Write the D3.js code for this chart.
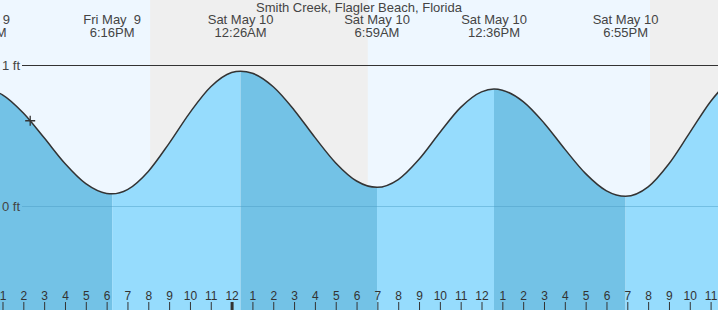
<!DOCTYPE html>
<html>
<head>
<meta charset="utf-8">
<script src="https://cdn.jsdelivr.net/npm/d3@7"></script>
<style>
  html, body { margin: 0; padding: 0; background: #fff; }
  svg { display: block; font-family: "Liberation Sans", Arial, sans-serif; }
</style>
</head>
<body>
<svg id="chart" width="718" height="310"></svg>
<script>
// ---- data (hours relative to Sat May 10, 12:00 AM) ----
const title = "Smith Creek, Flagler Beach, Florida";

const tideTimes = [-12.03, -11, -10, -9, -8, -7, -6, -5.733, -5, -4, -3, -2, -1, 0, 0.433,
  1, 2, 3, 4, 5, 6, 6.983, 8, 9, 10, 11, 12, 12.6, 13, 14, 15, 16, 17, 18, 18.917,
  20, 21, 22, 23, 24];
const tideHeights = [0.84, 0.792, 0.663, 0.487, 0.305, 0.162, 0.093, 0.09, 0.120, 0.249, 0.448, 0.666, 0.849, 0.950, 0.96,
  0.945, 0.849, 0.685, 0.490, 0.309, 0.181, 0.136, 0.191, 0.335, 0.525, 0.703, 0.813, 0.833, 0.825, 0.744, 0.593, 0.407, 0.233, 0.111, 0.072,
  0.139, 0.303, 0.524, 0.745, 0.911];

const extremeTimes = [-12.03, -5.733, 0.433, 6.983, 12.6, 18.917];
const extremeTypes = ["high", "low", "high", "low", "high", "low"];
const extremeDates = ["Fri May  9", "Fri May  9", "Sat May 10", "Sat May 10", "Sat May 10", "Sat May 10"];
const extremeClocks = ["11:58AM", "6:16PM", "12:26AM", "6:59AM", "12:36PM", "6:55PM"];

const nightStarts = [-3.91, 20.09];
const nightEnds = [6.54, 30];

const hourTicks = [-11, -10, -9, -8, -7, -6, -5, -4, -3, -2, -1, 0, 1, 2, 3, 4, 5, 6, 7, 8, 9, 10, 11,
  12, 13, 14, 15, 16, 17, 18, 19, 20, 21, 22, 23];
const hourLabels = ["1","2","3","4","5","6","7","8","9","10","11","12","1","2","3","4","5","6","7","8","9","10","11",
  "12","1","2","3","4","5","6","7","8","9","10","11"];

const yTicks = [0, 1];
const yTickLabels = ["0 ft", "1 ft"];

const nowTime = -9.67;
const nowHeight = 0.608;

// ---- drawing ----
const W = 718, H = 310;
const svg = d3.select("#chart");
const x = d3.scaleLinear().domain([-11.12, 23.355]).range([0, W]);
const y = d3.scaleLinear().domain([0, 1]).range([206.5, 65.5]);

const colors = {
  day: "#eef7ff", night: "#efefef",
  falling: "#73c2e6", rising: "#96dcfd",
  text: "#444", curve: "#333"
};

// day background
svg.append("rect").attr("x", 0).attr("y", 0).attr("width", W).attr("height", H).attr("fill", colors.day);
// night shading
svg.selectAll("rect.night").data(nightStarts).enter().append("rect")
  .attr("class", "night")
  .attr("x", (d) => x(d))
  .attr("y", 0)
  .attr("width", (d, i) => Math.min(x(nightEnds[i]), W) - x(d))
  .attr("height", H)
  .attr("fill", colors.night);

const pts = tideTimes.map((t, i) => [t, tideHeights[i]]);
const area = d3.area().x(d => x(d[0])).y0(H).y1(d => y(d[1])).curve(d3.curveMonotoneX);
const line = d3.line().x(d => x(d[0])).y(d => y(d[1])).curve(d3.curveMonotoneX);

svg.append("clipPath").attr("id", "tideclip").append("path").attr("d", area(pts));

// filled segments between extremes
const segBounds = extremeTimes.concat([x.domain()[1] + 2]);
const segs = extremeTimes.map((t, i) => ({ t0: t, t1: segBounds[i + 1], type: extremeTypes[i] }));
svg.append("g").attr("clip-path", "url(#tideclip)")
  .selectAll("rect").data(segs).enter().append("rect")
  .attr("x", d => x(d.t0))
  .attr("y", 0)
  .attr("width", d => x(d.t1) - x(d.t0))
  .attr("height", H)
  .attr("fill", d => d.type === "high" ? colors.falling : colors.rising);

// reference lines
svg.selectAll("line.ref").data(yTicks).enter().append("line")
  .attr("class", "ref")
  .attr("x1", 22).attr("x2", W)
  .attr("y1", d => y(d)).attr("y2", d => y(d))
  .attr("stroke", d => d === 1 ? "#333" : "#4a9cc4")
  .attr("stroke-opacity", d => d === 1 ? 1 : 0.45)
  .attr("stroke-width", 1);

svg.selectAll("text.ylab").data(yTicks).enter().append("text")
  .attr("class", "ylab")
  .attr("x", 20).attr("y", d => y(d) + 4.5)
  .attr("text-anchor", "end")
  .attr("font-size", 13)
  .attr("fill", colors.text)
  .text((d, i) => yTickLabels[i]);

// curve
svg.append("path").attr("d", line(pts))
  .attr("fill", "none").attr("stroke", colors.curve).attr("stroke-width", 1.5);

// current-time marker
const mx = x(nowTime), my = y(nowHeight);
svg.append("path")
  .attr("d", `M${mx - 5},${my}H${mx + 5}M${mx},${my - 5}V${my + 5}`)
  .attr("stroke", "#333").attr("stroke-width", 1.3).attr("fill", "none");

// title
svg.append("text").attr("x", 359).attr("y", 11.5)
  .attr("text-anchor", "middle").attr("font-size", 13).attr("fill", colors.text)
  .text(title);

// extreme labels
const lab = svg.selectAll("g.ext").data(extremeTimes).enter().append("g").attr("class", "ext");
lab.append("text").attr("x", d => x(d)).attr("y", 24)
  .attr("text-anchor", "middle").attr("font-size", 13).attr("fill", colors.text)
  .style("white-space", "pre")
  .text((d, i) => extremeDates[i]);
lab.append("text").attr("x", d => x(d)).attr("y", 37)
  .attr("text-anchor", "middle").attr("font-size", 13).attr("fill", colors.text)
  .text((d, i) => extremeClocks[i]);

// hour axis
const axis = d3.axisBottom(x).tickValues(hourTicks).tickSize(8).tickPadding(0)
  .tickFormat((d, i) => hourLabels[i]);
const gAxis = svg.append("g").attr("transform", "translate(0,302)").call(axis);
gAxis.select(".domain").remove();
gAxis.selectAll(".tick line").attr("stroke", "#333")
  .attr("stroke-width", d => d === 0 ? 3 : 1);
gAxis.selectAll(".tick text")
  .attr("y", -2.5).attr("dy", 0)
  .attr("font-size", 12).attr("fill", "#333")
  .attr("font-family", "'Liberation Sans', Arial, sans-serif");
</script>
</body>
</html>
